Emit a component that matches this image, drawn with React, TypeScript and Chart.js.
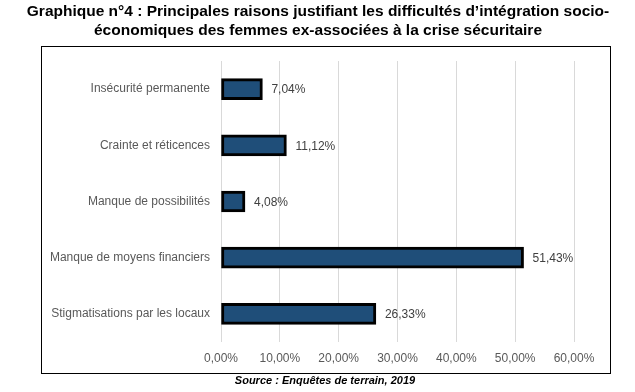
import React, { useEffect, useRef } from "react";
import { Chart, registerables } from "chart.js";

Chart.register(...registerables);

const categories = [
  "Insécurité permanente",
  "Crainte et réticences",
  "Manque de possibilités",
  "Manque de moyens financiers",
  "Stigmatisations par les locaux",
];
const values = [7.04, 11.12, 4.08, 51.43, 26.33];
const titleLines = [
  "Graphique n°4 : Principales raisons justifiant les difficultés d’intégration socio-",
  "économiques des femmes ex-associées à la crise sécuritaire",
];
const sourceText = "Source : Enquêtes de terrain, 2019";

const FONT = "'Liberation Sans', Arial, sans-serif";
const fmt = (v: number) => v.toFixed(2).replace(".", ",") + "%";

const decorPlugin = {
  id: "decor",
  beforeDraw(chart: any) {
    const ctx = chart.ctx;
    ctx.save();
    ctx.fillStyle = "#ffffff";
    ctx.fillRect(0, 0, chart.width, chart.height);
    ctx.strokeStyle = "#000000";
    ctx.lineWidth = 1;
    ctx.strokeRect(41.5, 46.5, 569, 327);
    ctx.fillStyle = "#000000";
    ctx.textAlign = "center";
    ctx.textBaseline = "middle";
    ctx.font = `bold 15.5px ${FONT}`;
    ctx.fillText(titleLines[0], 318, 12);
    ctx.fillText(titleLines[1], 318, 31);
    ctx.font = `italic bold 11px ${FONT}`;
    ctx.fillText(sourceText, 325, 381);
    ctx.restore();
  },
  afterDatasetsDraw(chart: any) {
    const ctx = chart.ctx;
    const meta = chart.getDatasetMeta(0);
    ctx.save();
    ctx.fillStyle = "#404040";
    ctx.font = `12px ${FONT}`;
    ctx.textAlign = "left";
    ctx.textBaseline = "middle";
    meta.data.forEach((bar: any, i: number) => {
      ctx.fillText(fmt(values[i]), bar.x + 9, bar.y + 1);
    });
    ctx.restore();
  },
};

export default function App() {
  const ref = useRef<HTMLCanvasElement>(null);
  useEffect(() => {
    document.body.style.margin = "0";
    const chart = new Chart(ref.current!, {
      type: "bar",
      data: {
        labels: categories,
        datasets: [
          {
            data: values,
            backgroundColor: "#1F4E79",
            borderColor: "#000000",
            borderWidth: 3,
            borderSkipped: false,
            barThickness: 21,
          },
        ],
      },
      options: {
        indexAxis: "y",
        animation: false,
        responsive: false,
        layout: { padding: { top: 61, right: 61, bottom: 0, left: 0 } },
        plugins: { legend: { display: false }, tooltip: { enabled: false } },
        scales: {
          x: {
            min: 0,
            max: 60,
            ticks: {
              stepSize: 10,
              color: "#595959",
              font: { family: FONT, size: 12 },
              padding: 9,
              callback: (v: any) => Number(v).toFixed(2).replace(".", ",") + "%",
            },
            grid: { color: "#d9d9d9", drawTicks: false },
            border: { display: false },
            afterFit: (s: any) => {
              s.height = 50;
            },
          },
          y: {
            ticks: {
              color: "#595959",
              font: { family: FONT, size: 12 },
              padding: 11,
            },
            grid: { display: false, drawTicks: false },
            border: { display: false },
            afterFit: (s: any) => {
              s.width = 221;
            },
          },
        },
      },
      plugins: [decorPlugin],
    });
    return () => chart.destroy();
  }, []);
  return (
    <div style={{ width: 635, height: 392 }}>
      <canvas ref={ref} width={635} height={392} style={{ display: "block" }} />
    </div>
  );
}
